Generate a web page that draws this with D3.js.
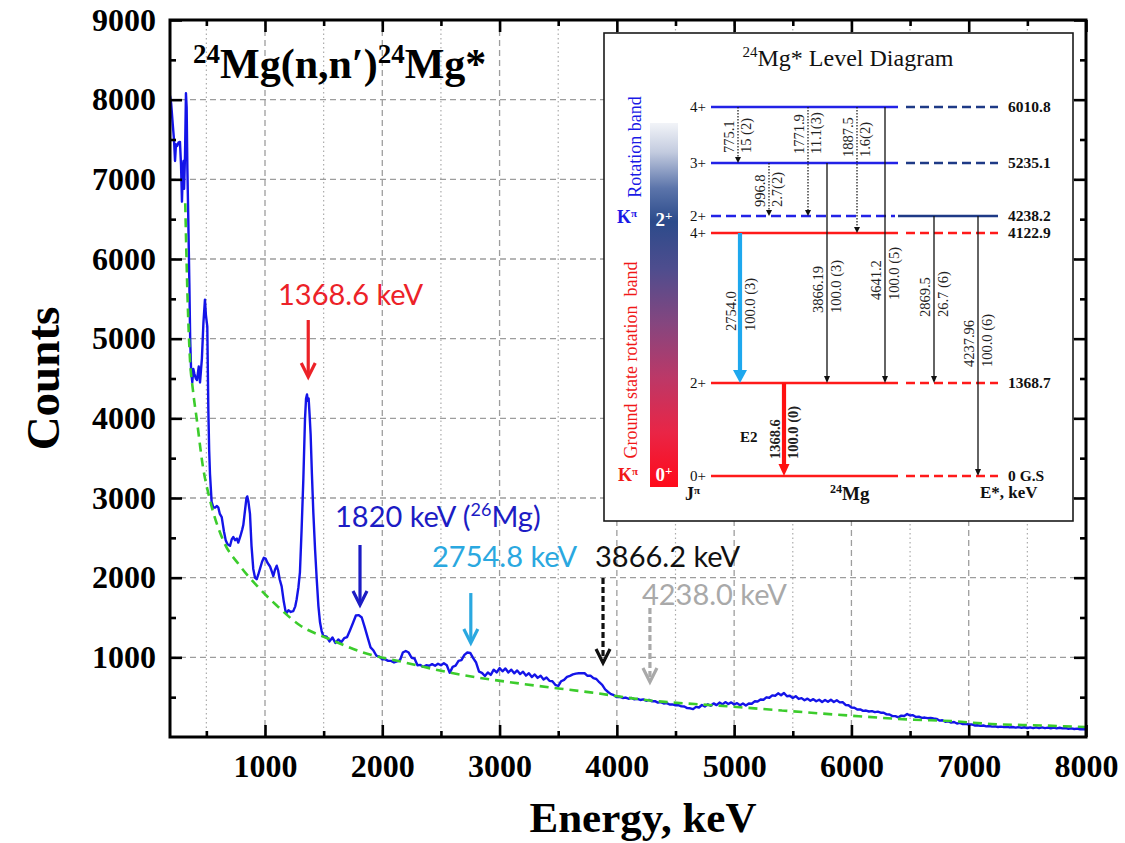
<!DOCTYPE html>
<html>
<head>
<meta charset="utf-8">
<script src="https://d3js.org/d3.v7.min.js"></script>
<style>
  body { margin: 0; background: #fff; }
  svg text { font-family: "Liberation Serif", "Times New Roman", serif; }
  .ann { font-family: Lato, "Open Sans", sans-serif; }
</style>
</head>
<body>
<div id="chart"></div>
<script>
// measured spectrum below 1.5 MeV, [energy keV, counts]
var lowSpectrum = [
  [190, 8050], [200, 7950], [213, 7700], [224, 7500], [233, 7230], [241, 7440], [252, 7420],
  [262, 7460], [275, 7470], [284, 7180], [292, 6720], [300, 7150], [305, 7230], [310, 6880],
  [318, 7300], [326, 8080], [332, 7900], [338, 7150], [346, 6500], [355, 5700], [362, 5000],
  [370, 4600], [380, 4450], [389, 4620], [398, 4560], [410, 4500], [420, 4480], [435, 4650],
  [446, 4450], [455, 4620], [462, 4750], [475, 5200], [488, 5490], [496, 5300], [508, 5150],
  [517, 4100], [524, 3600], [531, 3300], [545, 2950], [560, 2880], [575, 2880], [590, 2900],
  [602, 2880], [615, 2800], [631, 2760], [650, 2580], [665, 2470], [680, 2420], [702, 2400],
  [716, 2480], [730, 2510], [745, 2470], [760, 2490], [772, 2440], [790, 2520], [805, 2600],
  [815, 2660], [830, 2850], [842, 3000], [849, 3020], [858, 2960], [872, 2800], [885, 2400],
  [900, 2110], [915, 2000], [929, 1980], [943, 2040], [957, 2110], [975, 2200], [990, 2250],
  [1005, 2240], [1020, 2190], [1043, 2140], [1060, 2070], [1071, 2020], [1085, 2100], [1100, 2150],
  [1112, 2090], [1125, 1980], [1142, 1890], [1160, 1700], [1175, 1580], [1185, 1560], [1200, 1590],
  [1220, 1570], [1241, 1580], [1258, 1640], [1270, 1730], [1285, 1880], [1298, 2070], [1312, 2600],
  [1327, 3240], [1341, 3990], [1350, 4250], [1358, 4300], [1365, 4220], [1372, 4250], [1380, 4050],
  [1389, 3800], [1400, 3300], [1412, 2820], [1427, 2350], [1441, 1980], [1455, 1650], [1469, 1440],
  [1483, 1330], [1497, 1270]
];

// spectrum above 1.5 MeV, one value every 25 keV from 1525 keV
var highStartKeV = 1525, highStepKeV = 25;
var highCounts = [
  1260, 1200, 1250, 1180, 1225, 1190, 1240, 1255, 1340, 1430, 1525, 1530, 1500, 1380, 1250, 1125,
  1085, 1020, 1010, 975, 975, 955, 955, 935, 950, 960, 1060, 1080, 1060, 995, 985, 900,
  905, 880, 900, 895, 915, 895, 920, 900, 925, 900, 805, 880, 895, 955, 965, 1030,
  1060, 1055, 990, 935, 820, 805, 765, 810, 780, 845, 810, 865, 825, 860, 810, 845,
  800, 835, 790, 820, 770, 800, 752, 785, 742, 768, 722, 748, 705, 700, 655, 640,
  700, 718, 755, 768, 785, 795, 800, 802, 800, 768, 770, 738, 728, 688, 655, 598,
  565, 538, 525, 500, 505, 490, 495, 480, 490, 472, 478, 465, 472, 455, 465, 448,
  450, 432, 438, 420, 425, 408, 410, 398, 400, 385, 382, 362, 360, 350, 378, 370,
  402, 382, 410, 392, 422, 400, 432, 410, 438, 415, 435, 408, 425, 398, 420, 395,
  420, 418, 448, 445, 470, 468, 498, 492, 522, 518, 548, 525, 552, 512, 518, 490,
  512, 478, 488, 462, 482, 455, 475, 448, 468, 440, 465, 442, 468, 440, 462, 435,
  438, 402, 398, 370, 368, 345, 346, 328, 332, 320, 325, 312, 318, 305, 305, 284,
  282, 262, 262, 246, 268, 264, 288, 270, 274, 252, 256, 240, 244, 236, 240, 232,
  228, 206, 210, 192, 198, 180, 188, 170, 178, 162, 166, 156, 158, 145, 148, 140,
  144, 134, 138, 130, 134, 126, 130, 124, 127, 120, 126, 118, 124, 116, 122, 113,
  121, 112, 120, 111, 120, 112, 118, 110, 117, 109, 116, 108, 113, 104, 109, 101,
  105, 97, 101, 94
];

// fitted background, [energy keV, counts]
var background = [
  [320, 6700], [340, 5500], [360, 4750], [385, 4360], [418, 3990], [470, 3400], [530, 2980],
  [640, 2480], [786, 2150], [930, 1900], [1100, 1650], [1300, 1400], [1550, 1230], [1836, 1060],
  [2178, 940], [2638, 790], [3203, 665], [3775, 560], [4282, 458], [4845, 396], [5408, 333],
  [5972, 270], [6535, 217], [6850, 200], [7191, 163], [7618, 145], [8000, 125]
];

var xTicks = [1000, 2000, 3000, 4000, 5000, 6000, 7000, 8000];
var xMinor = [500, 1500, 2500, 3500, 4500, 5500, 6500, 7500];
var yTicks = [1000, 2000, 3000, 4000, 5000, 6000, 7000, 8000, 9000];
var yMinor = [500, 1500, 2500, 3500, 4500, 5500, 6500, 7500, 8500];

// peak annotations
var peakText = ["1368.6 keV", "1820 keV (", "2754.8 keV", "3866.2 keV", "4238.0 keV"];
var peakArrowKeV = [1368.6, 1810, 2754.8, 3882, 4282];
var peakArrowFrom = [5234, 2410, 1807, 1996, 1619];
var peakArrowTo = [4519, 1657, 1180, 929, 690];
var peakTextKeV = [1111, 1597, 2424, 3814, 4214];
var peakTextCounts = [5423, 2636, 2134, 2134, 1657];
var peakColor = ["#ec2228", "#1c1cc4", "#2aa8e0", "#111111", "#a9a9a9"];
var peakDashed = [false, false, false, true, true];

// 24Mg level scheme
var levelEnergies = [0, 1368.7, 4122.9, 4238.2, 5235.1, 6010.8];
var levelSpins = ["0+", "2+", "4+", "2+", "3+", "4+"];
var levelLabels = ["0 G.S", "1368.7", "4122.9", "4238.2", "5235.1", "6010.8"];
var levelBand = ["ground", "ground", "ground", "k2", "k2", "k2"];

var gammaNames = ["775.1", "2754.0", "996.8", "1368.6", "1771.9", "3866.19", "1887.5", "4641.2", "2869.5", "4237.96"];
var gammaIntensity = ["15 (2)", "100.0 (3)", "2.7(2)", "100.0 (0)", "11.1(3)", "100.0 (3)", "1.6(2)", "100.0 (5)", "26.7 (6)", "100.0 (6)"];
var gammaFrom = [6010.8, 4122.9, 5235.1, 1368.7, 6010.8, 5235.1, 6010.8, 6010.8, 4238.2, 4238.2];
var gammaTo = [5235.1, 1368.7, 4238.2, 0, 4238.2, 1368.7, 4122.9, 1368.7, 1368.7, 0];
var gammaKind = ["dotted", "cyan", "dotted", "red", "dotted", "solid", "dotted", "solid", "solid", "solid"];

// set the dimensions and margins of the graph
var margin = {top: 20, right: 39, bottom: 106, left: 170},
    width = 1125 - margin.left - margin.right,
    height = 843 - margin.top - margin.bottom;

var svg = d3.select("#chart")
  .append("svg")
    .attr("width", 1125)
    .attr("height", 843);

svg.append("rect").attr("width", 1125).attr("height", 843).attr("fill", "#fff");

var g = svg.append("g")
    .attr("transform", "translate(" + margin.left + "," + margin.top + ")");

var x = d3.scaleLinear().domain([190, 8000]).range([0, width]);
var y = d3.scaleLinear().domain([0, 9000]).range([height, 0]);

// grid
g.append("g").selectAll("line").data(xTicks.slice(0, -1)).join("line")
    .attr("x1", d => x(d)).attr("x2", d => x(d)).attr("y1", 0).attr("y2", height)
    .attr("stroke", "#9d9d9d").attr("stroke-width", 1.3).attr("stroke-dasharray", "6,4");
g.append("g").selectAll("line").data(xMinor).join("line")
    .attr("x1", d => x(d)).attr("x2", d => x(d)).attr("y1", 0).attr("y2", height)
    .attr("stroke", "#ababab").attr("stroke-width", 1.2).attr("stroke-dasharray", "1.5,3");
g.append("g").selectAll("line").data(yTicks.slice(0, -1)).join("line")
    .attr("x1", 0).attr("x2", width).attr("y1", d => y(d)).attr("y2", d => y(d))
    .attr("stroke", "#9d9d9d").attr("stroke-width", 1.3).attr("stroke-dasharray", "6,4");

// spectrum and background
g.append("clipPath").attr("id", "plotclip")
  .append("rect").attr("width", width).attr("height", height);

var spectrum = lowSpectrum.concat(highCounts.map(function(c, i) {
  return [highStartKeV + i * highStepKeV, c];
}));

g.append("path")
    .datum(spectrum)
    .attr("clip-path", "url(#plotclip)")
    .attr("fill", "none")
    .attr("stroke", "#1414e8")
    .attr("stroke-width", 2.4)
    .attr("stroke-linejoin", "round")
    .attr("d", d3.line().x(d => x(d[0])).y(d => y(d[1])));

g.append("path")
    .datum(background)
    .attr("fill", "none")
    .attr("stroke", "#3ccc2c")
    .attr("stroke-width", 2.6)
    .attr("stroke-dasharray", "9,6")
    .attr("d", d3.line().x(d => x(d[0])).y(d => y(d[1])).curve(d3.curveMonotoneX));

// axes, ticks pointing inside
function styleAxis(sel) {
  sel.select(".domain").remove();
  sel.selectAll(".tick line").attr("stroke", "#000").attr("stroke-width", 2.6);
  sel.selectAll("text").attr("font-size", 32).attr("font-weight", "bold")
     .attr("font-family", "Liberation Serif, serif").attr("fill", "#000");
}
var fmt = d3.format("d");
g.append("g").attr("transform", "translate(0," + height + ")")
  .call(d3.axisBottom(x).tickValues(xTicks).tickFormat(fmt).tickSizeInner(-12).tickSizeOuter(0).tickPadding(17))
  .call(styleAxis);
g.append("g").attr("transform", "translate(0," + height + ")")
  .call(d3.axisBottom(x).tickValues(xMinor).tickFormat("").tickSizeInner(-6).tickSizeOuter(0))
  .call(styleAxis);
g.append("g")
  .call(d3.axisTop(x).tickValues(xTicks).tickFormat("").tickSizeInner(-12).tickSizeOuter(0))
  .call(styleAxis);
g.append("g")
  .call(d3.axisTop(x).tickValues(xMinor).tickFormat("").tickSizeInner(-6).tickSizeOuter(0))
  .call(styleAxis);
g.append("g")
  .call(d3.axisLeft(y).tickValues(yTicks).tickFormat(fmt).tickSizeInner(-12).tickSizeOuter(0).tickPadding(14))
  .call(styleAxis);
g.append("g")
  .call(d3.axisLeft(y).tickValues(yMinor).tickFormat("").tickSizeInner(-6).tickSizeOuter(0))
  .call(styleAxis);
g.append("g").attr("transform", "translate(" + width + ",0)")
  .call(d3.axisRight(y).tickValues(yTicks).tickFormat("").tickSizeInner(-12).tickSizeOuter(0))
  .call(styleAxis);
g.append("g").attr("transform", "translate(" + width + ",0)")
  .call(d3.axisRight(y).tickValues(yMinor).tickFormat("").tickSizeInner(-6).tickSizeOuter(0))
  .call(styleAxis);

g.append("rect").attr("width", width).attr("height", height)
    .attr("fill", "none").attr("stroke", "#000").attr("stroke-width", 3);

// axis titles
svg.append("text")
    .attr("transform", "translate(59," + (margin.top + height / 2) + ") rotate(-90)")
    .attr("text-anchor", "middle").attr("font-size", 47).attr("font-weight", "bold")
    .text("Counts");
svg.append("text")
    .attr("x", 643).attr("y", 832)
    .attr("text-anchor", "middle").attr("font-size", 43).attr("font-weight", "bold")
    .text("Energy, keV");

// reaction title
var title = svg.append("text").attr("x", 193).attr("y", 78)
    .attr("font-size", 42).attr("font-weight", "bold");
title.append("tspan").attr("font-size", 27).attr("dy", -15).text("24");
title.append("tspan").attr("dy", 15).text("Mg(n,n\u2032)");
title.append("tspan").attr("font-size", 27).attr("dy", -15).text("24");
title.append("tspan").attr("dy", 15).text("Mg*");

// peak arrows and labels
peakText.forEach(function(t, i) {
  var ax = x(peakArrowKeV[i]), y1 = y(peakArrowFrom[i]), y2 = y(peakArrowTo[i]);
  g.append("line")
      .attr("x1", ax).attr("x2", ax).attr("y1", y1).attr("y2", y2 - 1)
      .attr("stroke", peakColor[i]).attr("stroke-width", 3.2)
      .attr("stroke-dasharray", peakDashed[i] ? "6,3" : null);
  g.append("path")
      .attr("d", "M" + (ax - 7) + "," + (y2 - 14) + "L" + ax + "," + y2 + "L" + (ax + 7) + "," + (y2 - 14))
      .attr("fill", "none").attr("stroke", peakColor[i]).attr("stroke-width", 3.2);
  var txt = g.append("text").attr("class", "ann")
      .attr("x", x(peakTextKeV[i])).attr("y", y(peakTextCounts[i]))
      .attr("font-size", 29).attr("fill", peakColor[i]).text(t);
  if (i === 1) {
    txt.append("tspan").attr("font-size", 18).attr("dy", -11).text("26");
    txt.append("tspan").attr("dy", 11).text("Mg)");
  }
});

// ---------- inset level diagram ----------
var inset = svg.append("g");
inset.append("rect").attr("x", 604).attr("y", 33).attr("width", 469).attr("height", 488)
    .attr("fill", "#fff").attr("stroke", "#1a1a1a").attr("stroke-width", 1.6);

var it = inset.append("text").attr("x", 848).attr("y", 66).attr("text-anchor", "middle")
    .attr("font-size", 24).attr("fill", "#111");
it.append("tspan").attr("font-size", 15).attr("dy", -9).text("24");
it.append("tspan").attr("dy", 9).text("Mg* Level Diagram");

var levelY = d3.scaleLinear()
    .domain([0, 1368.7, 4122.9, 4238.2, 5235.1, 6010.8])
    .range([476, 383, 233, 216, 163, 107]);

var grad = svg.append("defs").append("linearGradient").attr("id", "bandgrad")
    .attr("x1", 0).attr("y1", 0).attr("x2", 0).attr("y2", 1);
[[0, "#f2f4f8"], [0.08, "#c3cbdf"], [0.18, "#5b74aa"], [0.27, "#2c4b8b"], [0.4, "#4e4d8e"],
 [0.55, "#85467f"], [0.7, "#bc3867"], [0.85, "#e92546"], [1, "#ff0a1a"]].forEach(function(s) {
  grad.append("stop").attr("offset", s[0]).attr("stop-color", s[1]);
});
inset.append("rect").attr("x", 650).attr("y", 123).attr("width", 28).attr("height", 364)
    .attr("fill", "url(#bandgrad)");

function sup(sel, base, s, fs) {
  sel.append("tspan").text(base);
  sel.append("tspan").attr("font-size", fs).attr("dy", -6).text(s);
}
sup(inset.append("text").attr("x", 664).attr("y", 226).attr("text-anchor", "middle")
    .attr("font-size", 19).attr("font-weight", "bold").attr("fill", "#fff"), "2", "+", 13);
sup(inset.append("text").attr("x", 664).attr("y", 481).attr("text-anchor", "middle")
    .attr("font-size", 19).attr("font-weight", "bold").attr("fill", "#fff"), "0", "+", 13);

var kb = inset.append("text").attr("x", 617).attr("y", 223).attr("font-size", 18)
    .attr("font-weight", "bold").attr("fill", "#1a1ae6");
kb.append("tspan").text("K");
kb.append("tspan").attr("font-size", 11).attr("dy", -6).text("\u03c0");
var kr = inset.append("text").attr("x", 618).attr("y", 481).attr("font-size", 18)
    .attr("font-weight", "bold").attr("fill", "#f01818");
kr.append("tspan").text("K");
kr.append("tspan").attr("font-size", 11).attr("dy", -6).text("\u03c0");

inset.append("text").attr("transform", "translate(641,147) rotate(-90)")
    .attr("text-anchor", "middle").attr("font-size", 18).attr("fill", "#1a1ae6")
    .text("Rotation band");
inset.append("text").attr("transform", "translate(637,360) rotate(-90)")
    .attr("text-anchor", "middle").attr("font-size", 18).attr("fill", "#f01818")
    .attr("xml:space", "preserve").text("Ground state rotation  band");

// levels
levelEnergies.forEach(function(e, i) {
  var ly = levelY(e), ground = levelBand[i] === "ground", bandHead = e === 4238.2;
  var leftColor = ground ? "#ff1a1a" : "#2222e6";
  var rightColor = ground ? "#ff1a1a" : "#1e3a86";
  inset.append("line").attr("x1", 711).attr("x2", bandHead ? 895 : 898).attr("y1", ly).attr("y2", ly)
      .attr("stroke", leftColor).attr("stroke-width", 2.6)
      .attr("stroke-dasharray", bandHead ? "10,5" : null);
  inset.append("line").attr("x1", bandHead ? 898 : 906).attr("x2", 998).attr("y1", ly).attr("y2", ly)
      .attr("stroke", rightColor).attr("stroke-width", 2.6)
      .attr("stroke-dasharray", bandHead ? null : "9,5");
  inset.append("text").attr("x", 706).attr("y", ly + 5).attr("text-anchor", "end")
      .attr("font-size", 15).attr("fill", "#111").text(levelSpins[i]);
  inset.append("text").attr("x", 1008).attr("y", ly + 5)
      .attr("font-size", 15.5).attr("font-weight", "bold").attr("fill", "#111").text(levelLabels[i]);
});

// gamma transitions
var gammaX = d3.scaleOrdinal().domain(gammaNames)
    .range([738, 740, 769, 784, 808, 827, 857, 885, 934, 978]);
var gammaLabelBottom = d3.scaleOrdinal().domain(gammaNames)
    .range([153, 331, 207, 459, 154, 313, 157, 300, 317, 367]);
var kindStyle = {
  dotted: {color: "#111", w: 1.2, dash: "1.6,1.4", head: [3, 6], right: 12.5, bold: false},
  solid:  {color: "#111", w: 1.3, dash: null, head: [3, 7], right: 13.5, bold: false},
  cyan:   {color: "#1ea8ee", w: 4.2, dash: null, head: [7, 13], right: 15, bold: false},
  red:    {color: "#ff1010", w: 4.2, dash: null, head: [5.5, 12], right: 14, bold: true}
};

gammaNames.forEach(function(name, i) {
  var st = kindStyle[gammaKind[i]];
  var gx = gammaX(name), y1 = levelY(gammaFrom[i]), y2 = levelY(gammaTo[i]);
  inset.append("line").attr("x1", gx).attr("x2", gx).attr("y1", y1).attr("y2", y2 - st.head[1] + 1)
      .attr("stroke", st.color).attr("stroke-width", st.w).attr("stroke-dasharray", st.dash);
  inset.append("path")
      .attr("d", "M" + (gx - st.head[0]) + "," + (y2 - st.head[1]) + "L" + (gx + st.head[0]) + "," + (y2 - st.head[1]) + "L" + gx + "," + y2 + "Z")
      .attr("fill", st.color);
  var lb = gammaLabelBottom(name);
  inset.append("text").attr("transform", "translate(" + (gx - 4) + "," + lb + ") rotate(-90)")
      .attr("font-size", 14.5).attr("font-weight", st.bold ? "bold" : null).attr("fill", "#222")
      .text(name);
  inset.append("text").attr("transform", "translate(" + (gx + st.right) + "," + lb + ") rotate(-90)")
      .attr("font-size", 14.5).attr("font-weight", st.bold ? "bold" : null).attr("fill", "#222")
      .text(gammaIntensity[i]);
});

inset.append("text").attr("x", 740).attr("y", 442).attr("font-size", 15)
    .attr("font-weight", "bold").attr("fill", "#111").text("E2");

// bottom captions
var jp = inset.append("text").attr("x", 685).attr("y", 500).attr("font-size", 18)
    .attr("font-weight", "bold").attr("fill", "#111");
jp.append("tspan").text("J");
jp.append("tspan").attr("font-size", 11).attr("dy", -6).text("\u03c0");
var mg = inset.append("text").attr("x", 830).attr("y", 500).attr("font-size", 19)
    .attr("font-weight", "bold").attr("fill", "#111");
mg.append("tspan").attr("font-size", 12).attr("dy", -7).text("24");
mg.append("tspan").attr("dy", 7).text("Mg");
inset.append("text").attr("x", 980).attr("y", 498).attr("font-size", 17)
    .attr("font-weight", "bold").attr("fill", "#111").text("E*, keV");
</script>
</body>
</html>
